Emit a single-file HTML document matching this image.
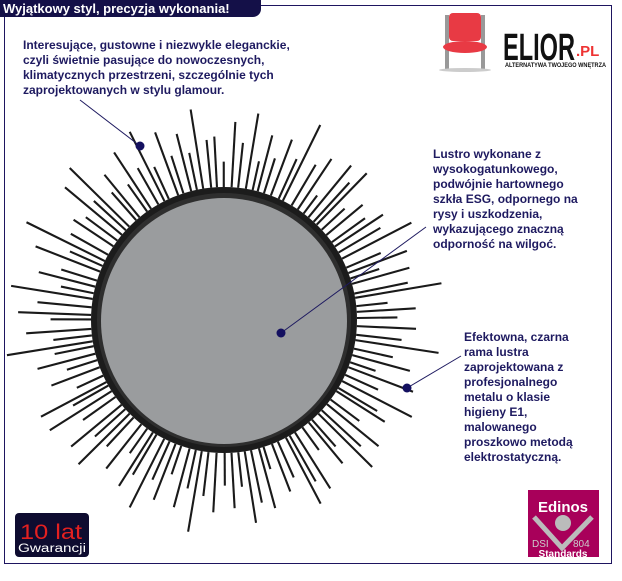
<!DOCTYPE html>
<html><head><meta charset="utf-8">
<style>
html,body{margin:0;padding:0;background:#fff;}
body{width:622px;height:581px;position:relative;overflow:hidden;font-family:"Liberation Sans",sans-serif;}
.frame{position:absolute;left:4px;top:5px;width:606px;height:557px;border:1.5px solid #1e1560;}
.tab{position:absolute;left:0;top:0;height:17px;width:258px;background:#141048;color:#fff;font-weight:bold;font-size:13px;line-height:17px;padding-left:3px;border-radius:0 0 8px 0;}
.t{position:absolute;color:#1e1a60;font-weight:bold;font-size:12px;line-height:15px;white-space:pre;}
</style></head><body>
<div class="frame"></div>
<div class="tab">Wyjątkowy styl, precyzja wykonania!</div>
<svg id="s" width="622" height="581" style="position:absolute;left:0;top:0">
<g id="rays" stroke="#1a1a1a" stroke-width="2.1" stroke-linecap="butt"></g>
<circle cx="224" cy="320" r="133" fill="#1c1c1c"/>
<circle cx="224" cy="320" r="127" fill="#2e2e2e"/>
<circle cx="224" cy="321" r="123" fill="#9a9c9e"/>
<line x1="80" y1="100" x2="140" y2="146" stroke="#1e1a60" stroke-width="1"/>
<line x1="426" y1="227" x2="281" y2="333" stroke="#1e1a60" stroke-width="1"/>
<line x1="461" y1="356" x2="407" y2="388" stroke="#1e1a60" stroke-width="1"/>
<circle cx="140" cy="146" r="4.5" fill="#141060"/>
<circle cx="281" cy="333" r="4.5" fill="#141060"/>
<circle cx="407" cy="388" r="4.5" fill="#141060"/>
<rect x="445" y="15" width="4" height="55" fill="#999"/>
<rect x="481" y="15" width="4" height="55" fill="#999"/>
<rect x="449" y="13" width="32" height="28" rx="4" fill="#e83a44"/>
<ellipse cx="465" cy="47" rx="22" ry="6" fill="#e83a44"/>
<ellipse cx="465" cy="70" rx="26" ry="2" fill="#ccc"/>
<text x="503" y="60" font-family="Liberation Sans" font-weight="bold" font-size="38" fill="#111" textLength="72" lengthAdjust="spacingAndGlyphs">ELIOR</text>
<text x="576" y="56" font-family="Liberation Sans" font-weight="bold" font-size="15" fill="#e33">.PL</text>
<text x="505" y="67" font-family="Liberation Sans" font-weight="bold" font-size="6" fill="#111" textLength="101" lengthAdjust="spacingAndGlyphs">ALTERNATYWA TWOJEGO WNĘTRZA</text>
<rect x="15" y="513" width="74" height="44" rx="4" fill="#0e0c30"/>
<text x="20" y="539" font-family="Liberation Sans" font-size="21" fill="#e42020" textLength="62" lengthAdjust="spacingAndGlyphs">10 lat</text>
<text x="18" y="552" font-family="Liberation Sans" font-size="11.5" fill="#fff" textLength="68" lengthAdjust="spacingAndGlyphs">Gwarancji</text>
<rect x="528" y="490" width="71" height="67" fill="#a8005a"/>
<text x="563" y="512" text-anchor="middle" font-family="Liberation Sans" font-weight="bold" font-size="15" fill="#fff">Edinos</text>
<polyline points="534,517 562,548 592,517" fill="none" stroke="#bbb" stroke-width="5"/>
<circle cx="563" cy="523" r="8" fill="#bbb"/>
<text x="532" y="547" font-family="Liberation Sans" font-size="10" fill="#ccc">DSI</text>
<text x="573" y="547" font-family="Liberation Sans" font-size="10" fill="#ccc">804</text>
<text x="563" y="557" text-anchor="middle" font-family="Liberation Sans" font-weight="bold" font-size="10" fill="#fff">Standards</text>
</svg>
<div class="t" style="left:23px;top:38px;">Interesujące, gustowne i niezwykle eleganckie,
czyli świetnie pasujące do nowoczesnych,
klimatycznych przestrzeni, szczególnie tych
zaprojektowanych w stylu glamour.</div>
<div class="t" style="left:433px;top:147px;">Lustro wykonane z
wysokogatunkowego,
podwójnie hartownego
szkła ESG, odpornego na
rysy i uszkodzenia,
wykazującego znaczną
odporność na wilgoć.</div>
<div class="t" style="left:464px;top:330px;">Efektowna, czarna
rama lustra
zaprojektowana z
profesjonalnego
metalu o klasie
higieny E1,
malowanego
proszkowo metodą
elektrostatyczną.</div>
<script>
var g=document.getElementById('rays'),s='',seed=7;
function r(){seed=(seed*16807)%2147483647;return seed/2147483647;}
var n=120;
for(var i=0;i<n;i++){
 var a=i/n*Math.PI*2+(r()-0.5)*0.03;
 var L=[165,198,178,212,172,190][i%6]+(r()-0.5)*20;
 var c=Math.cos(a),sn=Math.sin(a);
 s+='<line x1="'+(224+c*133)+'" y1="'+(320+sn*133)+'" x2="'+(224+c*L)+'" y2="'+(320+sn*L)+'"/>';
}
g.innerHTML=s;
</script>
</body></html>
